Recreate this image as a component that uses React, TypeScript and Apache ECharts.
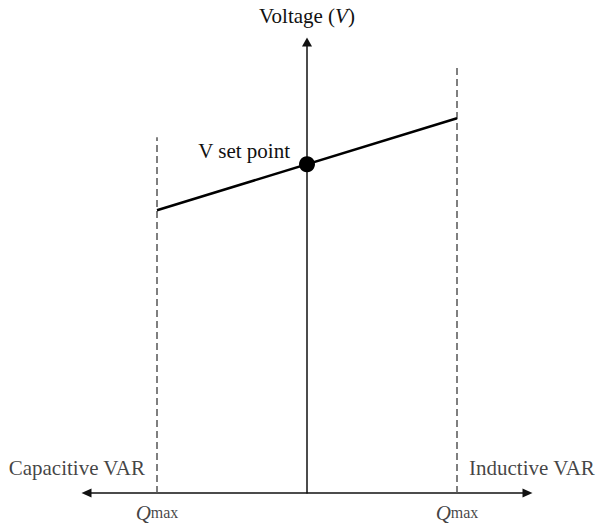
import React, { useEffect, useRef } from "react";
import * as echarts from "echarts";

// Data (Q in units of Qmax, V in arbitrary units)
const slopeLine: [number, number][] = [[-1, 6.27], [1, 8.31]];
const setPoint: [number, number] = [0, 7.29];
const leftLimit: [number, number][] = [[-1, 0], [-1, 7.89]];
const rightLimit: [number, number][] = [[1, 0], [1, 9.45]];
const sideLabels = [
  { name: "Capacitive VAR", value: [-1, 0.55], side: "left" },
  { name: "Inductive VAR", value: [1, 0.55], side: "right" },
];
const qmaxTicks: [number, number][] = [[-1, 0], [1, 0]];
const yTitle = "Voltage ({i|V})";
const setPointLabel = "V set point";

const FONT = "'Liberation Serif', 'Times New Roman', serif";
const FS = 21;

export default function App() {
  const ref = useRef<HTMLDivElement>(null);
  useEffect(() => {
    if (!ref.current) return;
    const chart = echarts.init(ref.current, undefined, { renderer: "svg" });
    chart.setOption({
      animation: false,
      backgroundColor: "#ffffff",
      grid: { left: 86.5, right: 69.5, top: 42, bottom: 32 },
      xAxis: {
        type: "value",
        min: -1.47,
        max: 1.47,
        axisLine: {
          show: true,
          onZero: true,
          symbol: ["triangle", "triangle"],
          symbolSize: [9, 10],
          lineStyle: { color: "#111", width: 1.5 },
        },
        axisTick: { show: false },
        axisLabel: { show: false },
        splitLine: { show: false },
      },
      yAxis: {
        type: "value",
        min: 0,
        max: 10,
        name: yTitle,
        nameLocation: "end",
        nameGap: 16,
        nameTextStyle: {
          fontFamily: FONT,
          fontSize: FS,
          color: "#111",
          rich: { i: { fontFamily: FONT, fontSize: FS, fontStyle: "italic", color: "#111" } },
        },
        axisLine: {
          show: true,
          onZero: true,
          symbol: ["none", "triangle"],
          symbolSize: [10, 9],
          lineStyle: { color: "#111", width: 1.5 },
        },
        axisTick: { show: false },
        axisLabel: { show: false },
        splitLine: { show: false },
      },
      series: [
        {
          type: "line",
          data: leftLimit,
          symbol: "none",
          lineStyle: { color: "#555", width: 1.5, type: [7, 4] },
        },
        {
          type: "line",
          data: rightLimit,
          symbol: "none",
          lineStyle: { color: "#555", width: 1.5, type: [7, 4] },
        },
        {
          type: "line",
          data: slopeLine,
          symbol: "none",
          lineStyle: { color: "#000", width: 2.5 },
        },
        {
          type: "scatter",
          data: [setPoint],
          symbolSize: 16,
          itemStyle: { color: "#000", opacity: 1 },
          z: 5,
          label: {
            show: true,
            position: "left",
            distance: 9,
            offset: [0, -13],
            formatter: setPointLabel,
            fontFamily: FONT,
            fontSize: FS,
            color: "#111",
          },
        },
        {
          type: "scatter",
          data: sideLabels.map((d) => ({
            value: d.value,
            label: { position: d.side },
          })),
          symbolSize: 0,
          label: {
            show: true,
            distance: 12,
            formatter: (p: any) => sideLabels[p.dataIndex].name,
            fontFamily: FONT,
            fontSize: FS,
            color: "#111",
          },
        },
        {
          type: "scatter",
          data: qmaxTicks,
          symbolSize: 0,
          label: {
            show: true,
            position: "bottom",
            distance: 9,
            formatter: "{q|Q}{s|max}",
            rich: {
              q: { fontFamily: FONT, fontSize: FS, fontStyle: "italic", color: "#111" },
              s: { fontFamily: FONT, fontSize: 16, color: "#111" },
            },
          },
        },
      ],
    });
    return () => chart.dispose();
  }, []);
  return (
    <div
      ref={ref}
      style={{ position: "fixed", left: 0, top: 0, width: 597, height: 525 }}
    />
  );
}
